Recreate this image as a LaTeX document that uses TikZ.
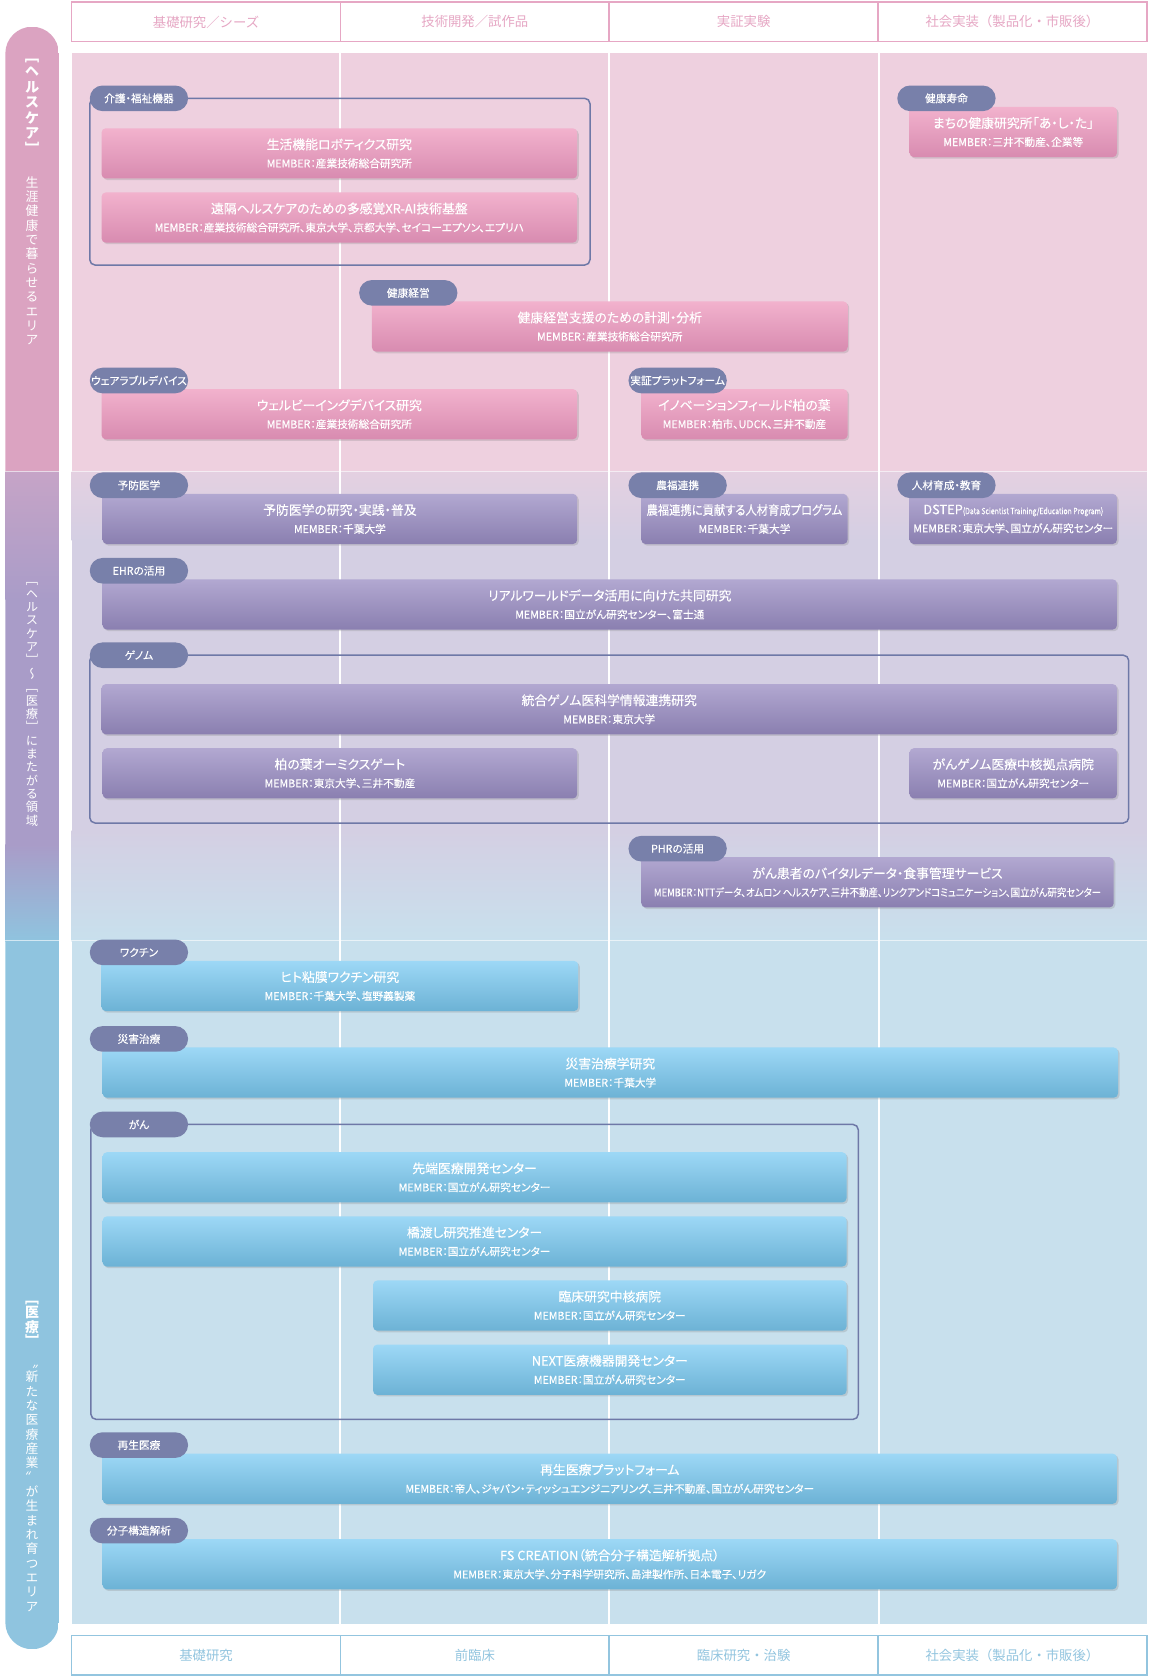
\documentclass[tikz,border=0pt]{standalone}
\usepackage{fontspec}
\usepackage{graphicx}
\setmainfont[RawFeature=+palt, FakeBold=0.3]{Noto Sans CJK JP}
\newfontfamily\hdfont{Noto Sans CJK JP}
\newfontfamily\vfont[RawFeature=+vert]{Noto Sans CJK JP}
\usetikzlibrary{shadows}

\definecolor{pinkbg}{HTML}{EED0DF}
\definecolor{pinkmix}{HTML}{E4D0E1}
\definecolor{lavbg}{HTML}{D4CFE3}
\definecolor{bluebg}{HTML}{C8E0ED}
\definecolor{bandpink}{HTML}{DBA3C1}
\definecolor{bandmix}{HTML}{C6A4C7}
\definecolor{bandlav}{HTML}{A99CC8}
\definecolor{bandblue}{HTML}{8FC4DF}
\definecolor{tagcol}{HTML}{7880AA}
\definecolor{grpcol}{HTML}{6E78A7}
\definecolor{pinktop}{HTML}{F2B2CD}
\definecolor{pinkbot}{HTML}{D88BB0}
\definecolor{purtop}{HTML}{B2A8D1}
\definecolor{purbot}{HTML}{8A7FB0}
\definecolor{bluetop}{HTML}{9DD8F6}
\definecolor{bluebot}{HTML}{6CB2D5}
\definecolor{hdpink}{HTML}{E6A7C4}
\definecolor{hdblue}{HTML}{93C5DF}

\newcommand{\ttl}[1]{{\fontsize{12}{14}\selectfont #1}}
\newcommand{\mbr}[1]{{\fontsize{10}{12}\selectfont MEMBER：#1}}
\newcommand{\mbrc}[1]{{\fontsize{10}{12}\selectfont\scalebox{0.88}[1]{MEMBER：#1}}}
\makeatletter
\newcommand{\vstk}[1]{\vstk@a#1\relax\relax}
\def\vstk@a#1#2{#1\ifx\relax#2\expandafter\@gobble\else\expandafter\vstk@b\fi{#2}}
\def\vstk@b#1{\\\vstk@a#1}
\makeatother

\tikzset{
  box/.style={rounded corners=4pt, text=white, align=center, inner sep=0pt, minimum height=47,
    drop shadow={shadow xshift=1.5pt, shadow yshift=-1.5pt, opacity=0.25},
    font=\fontsize{10}{17}\selectfont},
  pinkbox/.style={box, top color=pinktop, bottom color=pinkbot},
  purbox/.style={box, top color=purtop, bottom color=purbot},
  bluebox/.style={box, top color=bluetop, bottom color=bluebot},
  tag/.style={fill=tagcol, rounded corners=12pt, text=white, inner sep=0pt,
    minimum width=92, minimum height=24, font=\fontsize{10}{11}\selectfont},
  grp/.style={draw=grpcol, line width=1.4pt, rounded corners=5pt},
  hdcell/.style={fill=white, line width=1.5pt, inner sep=0pt, minimum width=251.5,
    minimum height=37, font=\hdfont\fontsize{12.5}{14}\selectfont},
  vtxt/.style={text=white, align=center, inner sep=0pt, anchor=north}
}

\begin{document}
\begin{tikzpicture}[x=1pt,y=-1pt]
\useasboundingbox (0,0) rectangle (1080,1569);

% left band
\begin{scope}
  \clip[rounded corners=25pt] (5,25) rectangle (55,1543);
  \fill[bandpink] (5,25) rectangle (55,442);
  \shade[top color=bandmix, bottom color=bandlav] (5,441) rectangle (55,561);
  \fill[bandlav] (5,560) rectangle (55,791);
  \shade[top color=bandlav, bottom color=bandblue] (5,790) rectangle (55,881);
  \fill[bandblue] (5,880) rectangle (55,1543);
\end{scope}

% background
\fill[pinkbg] (67,50) rectangle (1073,442);
\shade[top color=pinkmix, bottom color=lavbg] (67,441) rectangle (1073,506);
\fill[lavbg] (67,505) rectangle (1073,778);
\shade[top color=lavbg, bottom color=bluebg] (67,777) rectangle (1073,881);
\fill[bluebg] (67,880) rectangle (1073,1519);
\draw[white, opacity=0.6, line width=1pt] (5,441) -- (1073,441);
\draw[white, opacity=0.6, line width=1pt] (5,880) -- (1073,880);
\foreach \x in {318,570,822}
  \draw[white, line width=2pt] (\x,50) -- (\x,1519);

% headers
\foreach \lbl [count=\i] in {基礎研究／シーズ,技術開発／試作品,実証実験,社会実装（製品化・市販後）}
  \node[hdcell, draw=hdpink, text=hdpink] (top\i) at ({67+251.5*\i-125.75},20.5) {\lbl};
\foreach \lbl [count=\i] in {基礎研究,前臨床,臨床研究・治験,社会実装（製品化・市販後）}
  \node[hdcell, draw=hdblue, text=hdblue] (bot\i) at ({67+251.5*\i-125.75},1548.5) {\lbl};

% band texts
\node[vtxt, font=\vfont\bfseries\fontsize{13.5}{14.5}\selectfont] (areaA) at (30,55) {\vstk{［ヘルスケア］}};
\node[vtxt, font=\vfont\fontsize{12}{13.4}\selectfont] (areaB) at (30,165) {\vstk{生涯健康で暮らせるエリア}};
\node[vtxt, font=\vfont\fontsize{11.5}{12.5}\selectfont] (areaC) at (30,545) {\vstk{［ヘルスケア］〜［医療］にまたがる領域}};
\node[vtxt, font=\vfont\bfseries\fontsize{13}{13.5}\selectfont] (areaD) at (30,1217) {\vstk{［医療］}};
\node[vtxt, font=\vfont\fontsize{12}{13.4}\selectfont] (areaE) at (30,1277) {\vstk{〝新たな医療産業〟が生まれ育つエリア}};

% groups
\draw[grp] (84,92) rectangle (552,248);
\draw[grp] (84,613) rectangle (1056,770);
\draw[grp] (85,1052) rectangle (803,1328);

% healthcare
\node[pinkbox, minimum width=445] (robo) at (317.5,143.5) {\ttl{生活機能ロボティクス研究}\\\mbr{産業技術総合研究所}};
\node[pinkbox, minimum width=445] (xrai) at (317.5,203.5) {\ttl{遠隔ヘルスケアのための多感覚XR-AI技術基盤}\\\mbr{産業技術総合研究所、東京大学、京都大学、セイコーエプソン、エプリハ}};
\node[pinkbox, minimum width=194] (ashita) at (948,123.5) {\ttl{まちの健康研究所「あ・し・た」}\\\mbr{三井不動産、企業等}};
\node[pinkbox, minimum width=445] (keiei) at (570.5,305.5) {\ttl{健康経営支援のための計測・分析}\\\mbr{産業技術総合研究所}};
\node[pinkbox, minimum width=445] (wellb) at (317.5,387.5) {\ttl{ウェルビーイングデバイス研究}\\\mbr{産業技術総合研究所}};
\node[pinkbox, minimum width=193] (kashiwa) at (696.5,387.5) {\ttl{イノベーションフィールド柏の葉}\\\mbr{柏市、UDCK、三井不動産}};

% healthcare to medical
\node[purbox, minimum width=444] (yobo) at (318,485.5) {\ttl{予防医学の研究・実践・普及}\\\mbr{千葉大学}};
\node[purbox, minimum width=193] (nofuku) at (696.5,485.5) {\ttl{\scalebox{0.88}[1]{農福連携に貢献する人材育成プログラム}}\\\mbr{千葉大学}};
\node[purbox, minimum width=194] (dstep) at (948,485.5) {\ttl{DSTEP{\fontsize{8}{9}\selectfont\scalebox{0.8}[1]{(Data Scientist Training/Education Program)}}}\\\mbr{東京大学、国立がん研究センター}};
\node[purbox, minimum width=949] (rwd) at (570.5,565.5) {\ttl{リアルワールドデータ活用に向けた共同研究}\\\mbr{国立がん研究センター、富士通}};
\node[purbox, minimum width=950] (tougou) at (570,663.5) {\ttl{統合ゲノム医科学情報連携研究}\\\mbr{東京大学}};
\node[purbox, minimum width=444] (omics) at (318,723.5) {\ttl{柏の葉オーミクスゲート}\\\mbr{東京大学、三井不動産}};
\node[purbox, minimum width=194] (gangen) at (948,723.5) {\ttl{がんゲノム医療中核拠点病院}\\\mbr{国立がん研究センター}};
\node[purbox, minimum width=442] (vital) at (821,825.5) {\ttl{がん患者のバイタルデータ・食事管理サービス}\\\mbrc{NTTデータ、オムロン ヘルスケア、三井不動産、リンクアンドコミュニケーション、国立がん研究センター}};

% medical
\node[bluebox, minimum width=446] (vaccine) at (318,922.5) {\ttl{ヒト粘膜ワクチン研究}\\\mbr{千葉大学、塩野義製薬}};
\node[bluebox, minimum width=950] (saigai) at (571,1003.5) {\ttl{災害治療学研究}\\\mbr{千葉大学}};
\node[bluebox, minimum width=696] (sentan) at (444,1101.5) {\ttl{先端医療開発センター}\\\mbr{国立がん研究センター}};
\node[bluebox, minimum width=696] (hashi) at (444,1161.5) {\ttl{橋渡し研究推進センター}\\\mbr{国立がん研究センター}};
\node[bluebox, minimum width=443] (rinsho) at (570.5,1221.5) {\ttl{臨床研究中核病院}\\\mbr{国立がん研究センター}};
\node[bluebox, minimum width=443] (nextc) at (570.5,1281.5) {\ttl{NEXT医療機器開発センター}\\\mbr{国立がん研究センター}};
\node[bluebox, minimum width=949] (saisei) at (570.5,1383.5) {\ttl{再生医療プラットフォーム}\\\mbr{帝人、ジャパン・ティッシュエンジニアリング、三井不動産、国立がん研究センター}};
\node[bluebox, minimum width=949] (fscr) at (570.5,1463.5) {\ttl{FS CREATION（統合分子構造解析拠点）}\\\mbr{東京大学、分子科学研究所、島津製作所、日本電子、リガク}};

% tags
\node[tag] (tkaigo) at (130,92) {介護・福祉機器};
\node[tag] (tjumyo) at (885.5,92) {健康寿命};
\node[tag] (tkeiei) at (382,274) {健康経営};
\node[tag] (twear) at (130,356) {ウェアラブルデバイス};
\node[tag] (tpf) at (634,356) {実証プラットフォーム};
\node[tag] (tyobo) at (130,454) {予防医学};
\node[tag] (tnofuku) at (634,454) {農福連携};
\node[tag] (tjinzai) at (885.5,454) {人材育成・教育};
\node[tag] (tehr) at (130,534) {EHRの活用};
\node[tag] (tgenome) at (130,613) {ゲノム};
\node[tag] (tphr) at (634,794) {PHRの活用};
\node[tag] (tvac) at (130,891) {ワクチン};
\node[tag] (tsaigai) at (130,972) {災害治療};
\node[tag] (tgan) at (130,1052) {がん};
\node[tag] (tsaisei) at (130,1352) {再生医療};
\node[tag] (tbunshi) at (130,1432) {分子構造解析};
\end{tikzpicture}
\end{document}
